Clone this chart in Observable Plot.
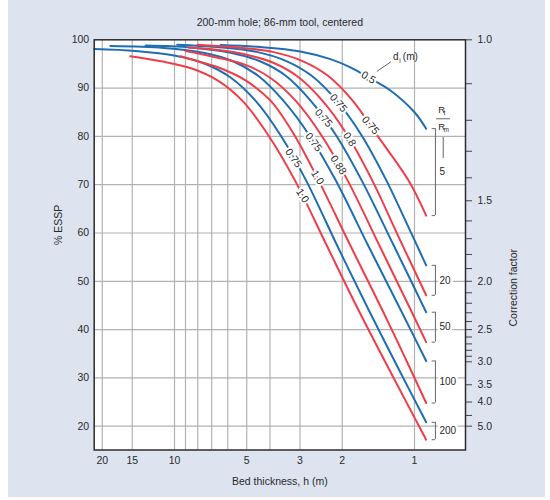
<!DOCTYPE html>
<html><head><meta charset="utf-8">
<script src="https://cdn.jsdelivr.net/npm/d3@7"></script>
<script src="https://cdn.jsdelivr.net/npm/@observablehq/plot@0.6"></script>
<style>
body{margin:0;background:#fff;}
#wrap{position:relative;width:550px;height:500px;overflow:hidden;background:#fff;}
#panel{position:absolute;left:8px;top:0;width:537px;height:497px;background:#dde4f0;}
#chart{position:absolute;left:0;top:0;}
</style></head>
<body><div id="wrap"><div id="panel"></div><div id="chart"></div></div>
<script>
// ---- data ----
const xTickLabels = [20, 15, 10, 5, 3, 2, 1];
const xGridValues = [20, 15, 10, 9, 8, 7, 6, 5, 4, 3, 2, 1];
const yTickValues = [20, 30, 40, 50, 60, 70, 80, 90, 100];
const yGridValues = [20, 30, 40, 50, 60, 70, 80, 90];
const cfLabeled = [1.0, 1.5, 2.0, 2.5, 3.0, 3.5, 4.0, 5.0];
const cfTicks = [1.0, 1.1, 1.2, 1.3, 1.4, 1.5, 1.6, 1.7, 1.8, 1.9, 2.0, 2.1, 2.2, 2.3, 2.4, 2.5, 2.6, 2.7, 2.8, 2.9, 3.0, 3.5, 4.0, 4.5, 5.0];
const ratios = [5, 20, 50, 100, 200];
const blueDi = ["0.5", "0.75", "0.75", "0.75", "0.75"];
const redDi = ["0.75", "0.8", "0.88", "1.0", "1.0"];

// [bed thickness h (m), % ESSP]
const blue5 = [[6.43,98.9],[4.38,98.5],[2.99,97.6],[2.24,96.0],[1.85,94.3],[1.53,92.0],[1.26,89.5],[1.0,85.0],[0.894,81.6]];
const blue20 = [[9.74,99.0],[6.68,98.5],[4.55,97.5],[3.42,95.6],[2.69,92.6],[2.11,87.4],[1.66,80.2],[1.31,70.9],[1.08,62.1],[0.894,53.3]];
const blue50 = [[13.2,98.8],[8.58,98.4],[5.84,97.3],[4.38,95.5],[3.45,92.6],[2.71,87.4],[2.12,80.2],[1.66,70.9],[1.22,57.4],[0.894,43.6]];
const blue100 = [[18.5,98.7],[11.1,98.3],[7.57,97.3],[5.68,95.5],[4.47,92.5],[3.52,87.4],[2.74,80.2],[2.13,70.9],[1.56,57.4],[1.14,44.0],[0.894,33.5]];
const blue200 = [[21.6,98.1],[14.5,97.7],[9.9,96.7],[7.43,95.0],[5.84,92.2],[4.6,87.4],[3.61,80.2],[2.83,70.9],[2.1,57.4],[1.55,44.0],[1.18,32.4],[0.894,20.8]];
const red5 = [[8.02,99.0],[5.73,98.5],[3.9,97.5],[2.93,95.6],[2.3,92.6],[1.81,87.4],[1.43,80.2],[1.06,70.9],[0.894,63.6]];
const red20 = [[8.75,98.4],[6.31,97.8],[5.21,97.1],[3.9,95.3],[3.07,92.4],[2.42,87.4],[1.9,80.2],[1.5,70.9],[1.16,59.0],[0.894,47.1]];
const red50 = [[9.0,97.7],[6.75,96.4],[5.06,94.8],[3.98,92.1],[3.13,87.4],[2.44,80.2],[1.9,70.9],[1.4,57.4],[1.035,44.0],[0.894,37.4]];
const red100 = [[9.44,96.6],[7.43,95.1],[6.43,94.1],[5.06,91.6],[3.98,87.4],[3.16,80.2],[2.51,70.9],[1.85,57.4],[1.36,44.0],[1.1,34.4],[0.894,24.8]];
const red200 = [[15.3,96.6],[11.2,95.5],[8.41,94.0],[6.62,91.6],[5.22,87.4],[4.06,80.2],[3.15,70.9],[2.32,57.4],[1.71,44.0],[1.24,30.6],[0.894,17.2]];

const blueCurves = [blue5, blue20, blue50, blue100, blue200];
const redCurves = [red5, red20, red50, red100, red200];

// curve-label placement (h, %, rotation)
const blueLabelPos = [[1.555,92.2,30],[2.074,86.9,50],[2.394,83.8,48],[2.635,78.8,53],[3.193,75.5,54]];
const redLabelPos = [[1.525,82.3,50],[1.866,79.4,58],[2.074,74.1,57],[2.536,71.5,58],[2.929,67.7,57]];

// annotation placement in data units
const ann = {
  bracketX: 0.818, serifX: 0.844, ratioLabelX: 0.787,
  rX: 0.797, rSubX: 0.757, rtV: 85.4, rtSubV: 84.9, rmV: 82.05, rmSubV: 81.4,
  fracX1: 0.81, fracX2: 0.708, fracV: 83.65,
  connX: 0.759, connV1: 79.8, connV2: 75.4,
  diX: 1.229, diV: 96.4, diSubX: 1.158, diSubV: 95.7, diUnitX: 1.118,
  leader: [[1.259, 95.4], [1.43, 93.5]]
};

// ---- build ----
const toRows = (curves, tag) => curves.flatMap((c, i) => c.map(([h, v]) => ({h, v, id: tag + i})));
const blueRows = toRows(blueCurves, "b");
const redRows = toRows(redCurves, "r");
const labels = [
  ...blueDi.map((t, i) => ({t, h: blueLabelPos[i][0], v: blueLabelPos[i][1], r: blueLabelPos[i][2]})),
  ...redDi.map((t, i) => ({t, h: redLabelPos[i][0], v: redLabelPos[i][1], r: redLabelPos[i][2]}))
];
const brackets = ratios.map((ratio, i) => {
  const b = blueCurves[i][blueCurves[i].length - 1][1];
  const r = redCurves[i][redCurves[i].length - 1][1];
  return {ratio, top: b, bottom: r, mid: (b + r) / 2};
});
const bracketEnds = brackets.flatMap(d => [d.top, d.bottom]);
const cfLabelMap = new Map(cfLabeled.map(c => [100 / c, c.toFixed(1)]));

const font = "'Liberation Sans', Arial, Helvetica, sans-serif";
const txt = "#2a2a2a";
const halo = {stroke: "white", strokeWidth: 5, strokeLinejoin: "round", paintOrder: "stroke"};

const chart = Plot.plot({
  width: 550, height: 500,
  marginLeft: 93.7, marginRight: 85, marginTop: 39.3, marginBottom: 50.5,
  style: {background: "transparent", fontFamily: font, fontSize: "10.5px", color: "#333", overflow: "visible"},
  x: {type: "log", domain: [21.61, 0.613], axis: null},
  y: {domain: [15.07, 100], axis: null},
  marks: [
    Plot.frame({fill: "white", stroke: "none"}),
    Plot.ruleX(xGridValues, {stroke: "#b2b2b2", strokeWidth: 1.2}),
    Plot.ruleY(yGridValues, {stroke: "#b2b2b2", strokeWidth: 1.2}),
    Plot.line(blueRows, {x: "h", y: "v", z: "id", stroke: "#1f6db3", strokeWidth: 2, curve: "catmull-rom"}),
    Plot.line(redRows, {x: "h", y: "v", z: "id", stroke: "#ee3e4a", strokeWidth: 2, curve: "catmull-rom"}),
    Plot.text(labels, {x: "h", y: "v", text: "t", rotate: "r", fontSize: 10.5, fill: txt, ...halo, strokeWidth: 4}),
    // Rt/Rm brackets
    Plot.ruleX(brackets, {x: () => ann.bracketX, y1: "top", y2: "bottom", stroke: "#666", strokeWidth: 1}),
    Plot.ruleY(bracketEnds, {y: d => d, x1: () => ann.serifX, x2: () => ann.bracketX, stroke: "#666", strokeWidth: 1}),
    Plot.text(brackets, {x: () => ann.ratioLabelX, y: "mid", text: d => String(d.ratio), textAnchor: "start", fontSize: 10, fill: txt, ...halo}),
    Plot.ruleX([0], {x: () => ann.connX, y1: () => ann.connV1, y2: () => ann.connV2, stroke: "#666", strokeWidth: 1}),
    Plot.ruleY([0], {y: () => ann.fracV, x1: () => ann.fracX1, x2: () => ann.fracX2, stroke: "#666", strokeWidth: 1}),
    Plot.text(["R"], {x: () => ann.rX, y: () => ann.rtV, text: d => d, textAnchor: "start", fontSize: 9.5, fill: txt}),
    Plot.text(["t"], {x: () => ann.rSubX, y: () => ann.rtSubV, text: d => d, textAnchor: "start", fontSize: 6.5, fill: txt}),
    Plot.text(["R"], {x: () => ann.rX, y: () => ann.rmV, text: d => d, textAnchor: "start", fontSize: 9.5, fill: txt}),
    Plot.text(["m"], {x: () => ann.rSubX, y: () => ann.rmSubV, text: d => d, textAnchor: "start", fontSize: 6.5, fill: txt}),
    // d_i (m)
    Plot.line(ann.leader, {x: d => d[0], y: d => d[1], stroke: "#666", strokeWidth: 1}),
    Plot.text(["d"], {x: () => ann.diX, y: () => ann.diV, text: d => d, textAnchor: "start", fontSize: 10, fill: txt}),
    Plot.text(["i"], {x: () => ann.diSubX, y: () => ann.diSubV, text: d => d, textAnchor: "start", fontSize: 6.5, fill: txt}),
    Plot.text(["(m)"], {x: () => ann.diUnitX, y: () => ann.diV, text: d => d, textAnchor: "start", fontSize: 10, fill: txt}),
    // axes
    Plot.text(xTickLabels, {x: d => d, frameAnchor: "bottom", dy: 14, text: d => String(d), fontSize: 10.5, fill: txt}),
    Plot.axisY(yTickValues, {anchor: "left", tickSize: 0, tickPadding: 5, label: null, fill: txt}),
    Plot.axisY(cfTicks.map(c => 100 / c), {anchor: "right", tickSize: 6, tickPadding: 6, label: null, tickFormat: d => cfLabelMap.get(d) ?? "", stroke: "#444", fill: txt}),
    Plot.frame({stroke: "#2b2b2b", strokeWidth: 1.5}),
    // titles
    Plot.text(["200-mm hole; 86-mm tool, centered"], {frameAnchor: "top", dy: -21, text: d => d, fontSize: 10.5, fill: txt}),
    Plot.text(["Bed thickness, h (m)"], {frameAnchor: "bottom", dy: 35, text: d => d, fontSize: 10.5, fill: txt}),
    Plot.text(["% ESSP"], {frameAnchor: "left", dx: -36, text: d => d, rotate: -90, fontSize: 10.5, fill: txt}),
    Plot.text(["Correction factor"], {frameAnchor: "right", dx: 48, dy: 4, text: d => d, rotate: -90, fontSize: 10.5, fill: txt})
  ]
});
document.getElementById("chart").appendChild(chart);
</script></body></html>
